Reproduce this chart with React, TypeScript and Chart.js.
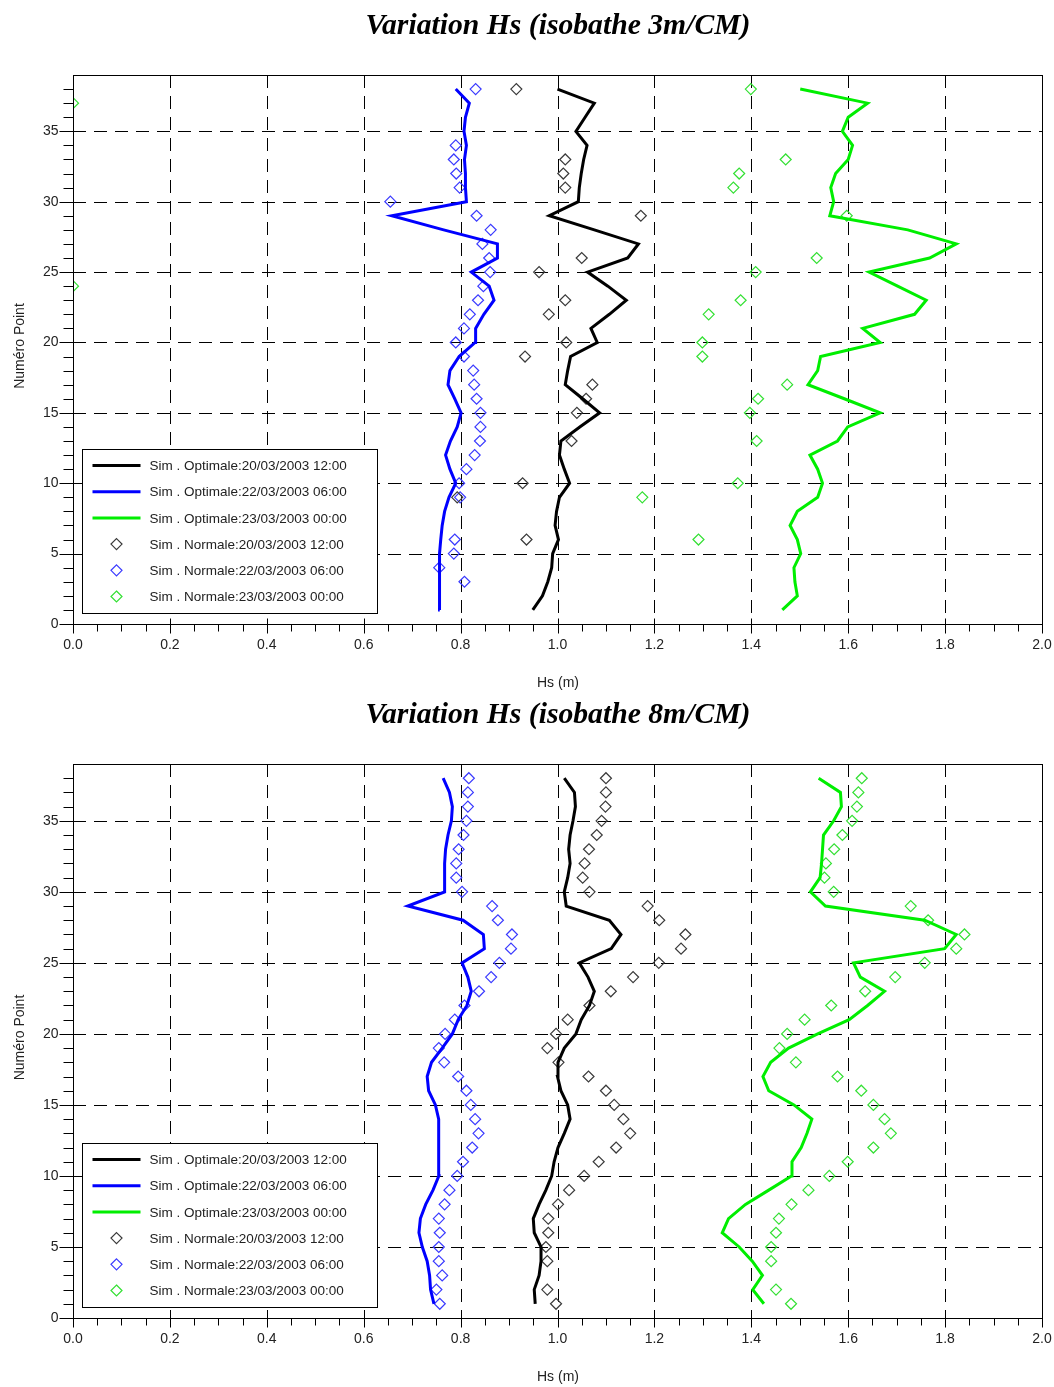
import React, { useEffect, useRef } from "react";
import { Chart, registerables } from "chart.js";

Chart.register(...registerables);

// Point numbers along the profile (y axis)
const POINTS = [
  1, 2, 3, 4, 5, 6, 7, 8, 9, 10, 11, 12, 13, 14, 15, 16, 17, 18, 19, 20,
  21, 22, 23, 24, 25, 26, 27, 28, 29, 30, 31, 32, 33, 34, 35, 36, 37, 38,
];

const X_TICKS = [0, 0.2, 0.4, 0.6, 0.8, 1.0, 1.2, 1.4, 1.6, 1.8, 2.0];
const X_TICK_LABELS = ["0.0", "0.2", "0.4", "0.6", "0.8", "1.0", "1.2", "1.4", "1.6", "1.8", "2.0"];
const Y_TICKS = [0, 5, 10, 15, 20, 25, 30, 35];
const Y_TICK_LABELS = ["0", "5", "10", "15", "20", "25", "30", "35"];

const SERIES_LABELS = [
  "Sim . Optimale:20/03/2003 12:00",
  "Sim . Optimale:22/03/2003 06:00",
  "Sim . Optimale:23/03/2003 00:00",
  "Sim . Normale:20/03/2003 12:00",
  "Sim . Normale:22/03/2003 06:00",
  "Sim . Normale:23/03/2003 00:00",
];

const TITLE_3M = "Variation Hs (isobathe 3m/CM)";
const TITLE_8M = "Variation Hs (isobathe 8m/CM)";

// ---- Isobathe 3 m : Hs (m) for points 1..38 ----
const OPT_20_3M = [
  0.949, 0.969, 0.98, 0.988, 0.99, 1.002, 0.995, 0.998, 1.004, 1.025,
  1.014, 1.004, 1.007, 1.046, 1.087, 1.052, 1.016, 1.021, 1.027, 1.082,
  1.069, 1.107, 1.142, 1.104, 1.062, 1.145, 1.167, 1.076, 0.983, 1.043,
  1.045, 1.049, 1.054, 1.061, 1.038, 1.057, 1.076, 1.0,
];
const OPT_22_3M = [
  0.757, 0.757, 0.757, 0.756, 0.756, 0.759, 0.762, 0.767, 0.776, 0.79,
  0.778, 0.769, 0.779, 0.793, 0.801, 0.788, 0.774, 0.778, 0.797, 0.83,
  0.831, 0.848, 0.869, 0.859, 0.822, 0.876, 0.876, 0.765, 0.658, 0.812,
  0.81, 0.81, 0.808, 0.812, 0.807, 0.81, 0.818, 0.79,
];
const OPT_23_3M = [
  1.464, 1.495, 1.49, 1.488, 1.502, 1.495, 1.48, 1.495, 1.537, 1.547,
  1.537, 1.521, 1.578, 1.599, 1.666, 1.592, 1.517, 1.537, 1.543, 1.666,
  1.63, 1.737, 1.761, 1.702, 1.643, 1.768, 1.823, 1.723, 1.562, 1.57,
  1.564, 1.574, 1.6, 1.609, 1.588, 1.6, 1.64, 1.501,
];
const NOR_20_3M = [
  null, null, null, null, null, 0.936, null, null, 0.793, 0.928,
  null, null, 1.029, null, 1.04, 1.059, 1.072, null, 0.933, 1.018,
  null, 0.982, 1.016, null, 0.962, 1.05, null, null, 1.172, null,
  1.016, 1.012, 1.016, null, null, null, null, 0.915,
];
const NOR_22_3M = [
  null, null, 0.808, 0.756, 0.786, 0.788, null, null, 0.799, 0.797,
  0.812, 0.829, 0.84, 0.841, 0.841, 0.833, 0.828, 0.826, 0.807, 0.79,
  0.807, 0.819, 0.836, 0.847, 0.861, 0.859, 0.845, 0.862, 0.833, 0.655,
  0.798, 0.791, 0.786, 0.79, null, null, null, 0.831,
];
const NOR_23_3M = [
  null, null, null, null, null, 1.291, null, null, 1.175, 1.372,
  null, null, 1.411, null, 1.397, 1.414, 1.474, null, 1.299, 1.299,
  null, 1.312, 1.378, 0.0, 1.409, 1.535, null, null, 1.597, null,
  1.363, 1.375, 1.471, null, null, null, 0.0, 1.399,
];

// ---- Isobathe 8 m : Hs (m) for points 1..38 ----
const OPT_20_8M = [
  0.954, 0.952, 0.962, 0.966, 0.966, 0.952, 0.95, 0.962, 0.976, 0.988,
  0.993, 1.001, 1.014, 1.026, 1.021, 1.007, 1.0, 1.001, 1.014, 1.038,
  1.049, 1.066, 1.076, 1.063, 1.045, 1.111, 1.131, 1.107, 1.018, 1.014,
  1.021, 1.026, 1.023, 1.026, 1.032, 1.037, 1.035, 1.014,
];
const OPT_22_8M = [
  0.745, 0.738, 0.736, 0.731, 0.721, 0.714, 0.717, 0.728, 0.743, 0.755,
  0.754, 0.755, 0.755, 0.755, 0.748, 0.734, 0.731, 0.74, 0.762, 0.783,
  0.795, 0.813, 0.822, 0.815, 0.803, 0.849, 0.847, 0.805, 0.691, 0.767,
  0.767, 0.767, 0.769, 0.774, 0.781, 0.783, 0.777, 0.764,
];
const OPT_23_8M = [
  1.426, 1.403, 1.423, 1.402, 1.375, 1.34, 1.353, 1.388, 1.436, 1.483,
  1.484, 1.503, 1.515, 1.525, 1.488, 1.436, 1.424, 1.44, 1.477, 1.537,
  1.602, 1.64, 1.675, 1.625, 1.611, 1.799, 1.823, 1.758, 1.553, 1.522,
  1.542, 1.545, 1.547, 1.549, 1.57, 1.586, 1.584, 1.539,
];
const NOR_20_8M = [
  0.997, 0.979, null, 0.979, 0.976, 0.981, 0.981, 1.001, 1.024, 1.055,
  1.085, 1.121, 1.15, 1.136, 1.117, 1.1, 1.064, 1.002, 0.979, 0.997,
  1.021, 1.066, 1.11, 1.156, 1.209, 1.255, 1.264, 1.21, 1.186, 1.066,
  1.052, 1.056, 1.065, 1.081, 1.091, 1.099, 1.1, 1.1,
];
const NOR_22_8M = [
  0.757, 0.75, 0.762, 0.755, 0.755, 0.757, 0.755, 0.767, 0.777, 0.793,
  0.805, 0.824, 0.837, 0.83, 0.821, 0.812, 0.795, 0.766, 0.755, 0.768,
  0.788, 0.808, 0.838, 0.863, 0.88, 0.904, 0.906, 0.877, 0.865, 0.803,
  0.791, 0.791, 0.796, 0.806, 0.812, 0.815, 0.815, 0.817,
];
const NOR_23_8M = [
  1.482, 1.451, null, 1.441, 1.441, 1.451, 1.457, 1.483, 1.518, 1.561,
  1.599, 1.652, 1.688, 1.675, 1.652, 1.627, 1.578, 1.492, 1.458, 1.474,
  1.51, 1.565, 1.635, 1.697, 1.758, 1.823, 1.84, 1.765, 1.729, 1.57,
  1.551, 1.554, 1.571, 1.588, 1.608, 1.618, 1.621, 1.628,
];

const LINE_COLORS = ["#000000", "#0000ff", "#00ee00"];
const MARK_COLORS = ["#3a3a3a", "#3a3aff", "#33e033"];

type Vals = (number | null)[];

function toXY(vals: Vals) {
  const out: { x: number; y: number }[] = [];
  vals.forEach((v, i) => {
    if (v !== null) out.push({ x: v, y: POINTS[i] });
  });
  return out;
}

const SANS = '"Liberation Sans", Arial, sans-serif';

const framePlugin = {
  id: "frame",
  beforeDatasetsDraw(chart: any) {
    const { ctx, chartArea: a, scales } = chart;
    const x = scales.x;
    const y = scales.y;
    ctx.save();
    ctx.strokeStyle = "#000";
    ctx.lineWidth = 1;
    ctx.setLineDash([13, 8]);
    for (const v of X_TICKS) {
      if (v <= 0 || v >= 2) continue;
      const px = Math.round(x.getPixelForValue(v)) + 0.5;
      ctx.beginPath();
      ctx.moveTo(px, a.top);
      ctx.lineTo(px, a.bottom);
      ctx.stroke();
    }
    for (const v of Y_TICKS) {
      if (v <= 0) continue;
      const py = Math.round(y.getPixelForValue(v)) + 0.5;
      ctx.beginPath();
      ctx.moveTo(a.left, py);
      ctx.lineTo(a.right, py);
      ctx.stroke();
    }
    ctx.restore();
  },
  afterDraw(chart: any, _args: any, opts: any) {
    const { ctx, chartArea: a, scales } = chart;
    const x = scales.x;
    const y = scales.y;
    ctx.save();
    ctx.strokeStyle = "#000";
    ctx.lineWidth = 1;
    ctx.setLineDash([]);

    // frame
    const L = Math.round(a.left) + 0.5;
    const R = Math.round(a.right) + 0.5;
    const T = Math.round(a.top) + 0.5;
    const B = Math.round(a.bottom) + 0.5;
    ctx.strokeRect(L, T, R - L, B - T);

    // x ticks (minor every 0.05)
    ctx.beginPath();
    for (let k = 0; k <= 40; k++) {
      const v = k * 0.05;
      const px = Math.round(x.getPixelForValue(v)) + 0.5;
      const major = k % 4 === 0;
      ctx.moveTo(px, major ? B - 6 : B);
      ctx.lineTo(px, major ? B + 9 : B + 7);
    }
    // y ticks (minor every 1)
    for (let k = 0; k <= 38; k++) {
      const py = Math.round(y.getPixelForValue(k)) + 0.5;
      const major = k % 5 === 0;
      ctx.moveTo(major ? L + 5 : L, py);
      ctx.lineTo(major ? L - 14 : L - 10, py);
    }
    ctx.stroke();

    // tick labels
    ctx.fillStyle = "#222";
    ctx.font = `14px ${SANS}`;
    ctx.textAlign = "center";
    ctx.textBaseline = "middle";
    X_TICKS.forEach((v, i) => {
      ctx.fillText(X_TICK_LABELS[i], x.getPixelForValue(v), B + 21);
    });
    ctx.textAlign = "right";
    Y_TICKS.forEach((v, i) => {
      ctx.fillText(Y_TICK_LABELS[i], L - 15, y.getPixelForValue(v));
    });

    // axis titles
    ctx.textAlign = "center";
    ctx.fillText("Hs (m)", (L + R) / 2, B + 59);
    ctx.save();
    ctx.translate(20, (T + B) / 2 - 4);
    ctx.rotate(-Math.PI / 2);
    ctx.fillText("Numéro Point", 0, 0);
    ctx.restore();

    // chart title (narrow bold italic serif)
    ctx.save();
    ctx.fillStyle = "#000";
    ctx.font = `italic bold 30px "Liberation Serif", "Times New Roman", serif`;
    const tw = ctx.measureText(opts.title).width;
    const sx = 385 / tw;
    ctx.translate((L + R) / 2, opts.titleY);
    ctx.scale(sx, 1);
    ctx.textAlign = "center";
    ctx.textBaseline = "middle";
    ctx.fillText(opts.title, 0, 0);
    ctx.restore();

    // legend box
    const bx = Math.round(a.left) + 9.5;
    const bw = 295;
    const bh = 164;
    const by = Math.round(a.bottom) - 10.5 - bh;
    ctx.fillStyle = "#fff";
    ctx.fillRect(bx, by, bw, bh);
    ctx.strokeStyle = "#000";
    ctx.lineWidth = 1;
    ctx.strokeRect(bx, by, bw, bh);
    ctx.font = `13.5px ${SANS}`;
    ctx.textAlign = "left";
    ctx.textBaseline = "middle";
    chart.data.datasets.forEach((ds: any, i: number) => {
      const ry = by + 16 + i * 26.2;
      if (ds.showLine !== false) {
        ctx.strokeStyle = ds.borderColor;
        ctx.lineWidth = 3;
        ctx.beginPath();
        ctx.moveTo(bx + 10, ry);
        ctx.lineTo(bx + 58, ry);
        ctx.stroke();
      } else {
        ctx.strokeStyle = ds.borderColor;
        ctx.lineWidth = 1.2;
        const cx = bx + 34;
        const r = 5.5;
        ctx.beginPath();
        ctx.moveTo(cx, ry - r);
        ctx.lineTo(cx + r, ry);
        ctx.lineTo(cx, ry + r);
        ctx.lineTo(cx - r, ry);
        ctx.closePath();
        ctx.stroke();
      }
      ctx.fillStyle = "#222";
      ctx.fillText(ds.label, bx + 67, ry + 1);
    });
    ctx.restore();
  },
};

type ChartProps = {
  title: string;
  lines: Vals[];
  marks: Vals[];
  height: number;
  padTop: number;
  padBottom: number;
  titleY: number;
};

function HsChart({ title, lines, marks, height, padTop, padBottom, titleY }: ChartProps) {
  const ref = useRef<HTMLCanvasElement | null>(null);
  useEffect(() => {
    if (!ref.current) return;
    const datasets: any[] = [];
    lines.forEach((vals, i) => {
      datasets.push({
        label: SERIES_LABELS[i],
        data: toXY(vals),
        borderColor: LINE_COLORS[i],
        backgroundColor: LINE_COLORS[i],
        borderWidth: 3,
        pointRadius: 0,
        showLine: true,
        tension: 0,
        clip: 0,
      });
    });
    marks.forEach((vals, i) => {
      datasets.push({
        label: SERIES_LABELS[i + 3],
        data: toXY(vals),
        borderColor: MARK_COLORS[i],
        backgroundColor: "rgba(0,0,0,0)",
        pointStyle: "rectRot",
        pointRadius: 5.5,
        pointBorderWidth: 1.2,
        showLine: false,
        clip: 0,
      });
    });
    const chart = new Chart(ref.current, {
      type: "scatter",
      data: { datasets },
      options: {
        animation: false,
        responsive: false,
        devicePixelRatio: 1,
        layout: { padding: { left: 73, right: 12, top: padTop, bottom: padBottom } },
        scales: {
          x: { type: "linear", min: 0, max: 2, display: false },
          y: { type: "linear", min: 0, max: 39, display: false },
        },
        plugins: {
          legend: { display: false },
          tooltip: { enabled: false },
          frame: { title, titleY },
        } as any,
      },
      plugins: [framePlugin as any],
    });
    return () => chart.destroy();
  }, []);
  return (
    <canvas
      ref={ref}
      width={1054}
      height={height}
      style={{ display: "block", width: 1054, height }}
    />
  );
}

export default function App() {
  return (
    <div
      style={{
        position: "absolute",
        left: 0,
        top: 0,
        width: 1054,
        height: 1387,
        background: "#fff",
      }}
    >
      <HsChart
        title={TITLE_3M}
        lines={[OPT_20_3M, OPT_22_3M, OPT_23_3M]}
        marks={[NOR_20_3M, NOR_22_3M, NOR_23_3M]}
        height={690}
        padTop={75}
        padBottom={66}
        titleY={26}
      />
      <HsChart
        title={TITLE_8M}
        lines={[OPT_20_8M, OPT_22_8M, OPT_23_8M]}
        marks={[NOR_20_8M, NOR_22_8M, NOR_23_8M]}
        height={697}
        padTop={74}
        padBottom={69}
        titleY={25}
      />
    </div>
  );
}
